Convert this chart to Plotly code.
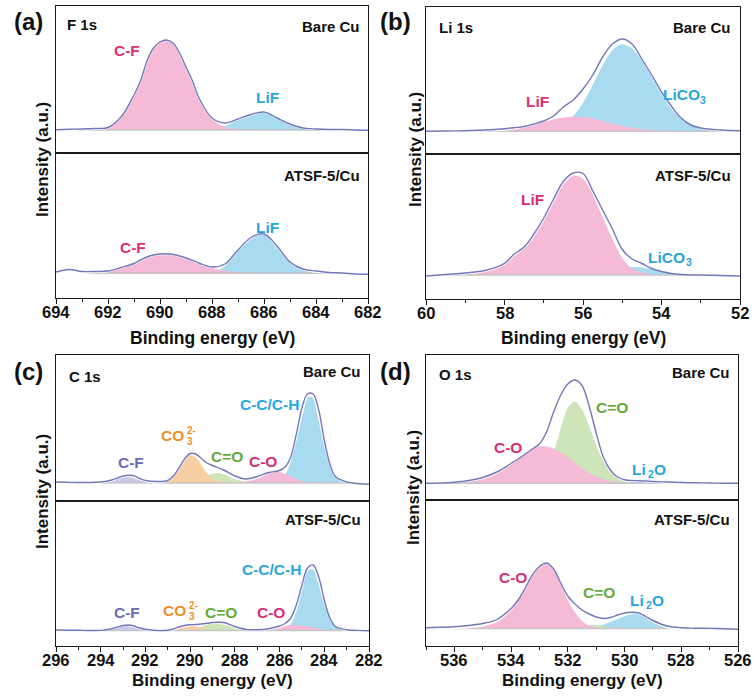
import plotly.graph_objects as go

FONT = "Liberation Sans, Arial, Helvetica, sans-serif"
FIG_W, FIG_H = 755, 698

RAW_COLOR = "#7378bb"
BASE_COLOR = "#c6c6c6"
FILL = {"pink": "#f5bad6", "blue": "#a8dbf0", "orange": "#f6cfa3",
        "green": "#cde5b8", "lav": "#c8c8e8"}
TEXT = {"pink": "#d92f72", "blue": "#27a6de", "orange": "#ee8e2a",
        "green": "#64ab3c", "lav": "#676cb3", "black": "#111111"}

# ---------------- (a) F 1s ----------------
F_TICKS = [694, 692, 690, 688, 686, 684, 682]
F_X = [694, 693.5, 693, 692.5, 692, 691.5, 691, 690.75, 690.5, 690.25, 690, 689.75,
       689.5, 689.25, 689, 688.75, 688.5, 688, 687.5, 687, 686.5, 686, 685.5, 685,
       684.5, 684, 683.5, 683, 682.5, 682]
F_BARE_BASE = 23.0
F_BARE_RAW = [23.3, 23.8, 24.0, 24.5, 25.5, 36, 58, 72, 92, 105, 111, 113, 110, 100, 86,
              72, 55, 35, 30, 34, 38.5, 41, 35, 29, 25, 24, 23.5, 23.5, 23.0, 22.7]
F_BARE_CF = [0, 0, 0.5, 1, 2.5, 13, 35, 49, 69, 82, 88, 90, 87, 77, 63,
             49, 32, 11, 3, 1, 0, 0, 0, 0, 0, 0, 0, 0, 0, 0]
F_BARE_LIF = [0, 0, 0, 0, 0, 0, 0, 0, 0, 0, 0, 0, 0, 0, 0,
              0, 0, 1, 4, 10, 15, 18, 12, 6, 2, 1, 0.3, 0, 0, 0]
F_ATSF_BASE = 24.8
F_ATSF_RAW = [26, 28.5, 26.5, 26.5, 27, 30.5, 34.5, 38, 41, 43, 44, 44.3, 43.5, 42, 40,
              37.7, 35, 31, 34, 48, 60.5, 64, 52, 36, 29, 27, 25.5, 25, 24, 23.7]
F_ATSF_CF = [0, 0, 0.3, 1, 2, 5.5, 9.7, 13, 16, 18, 19, 19.3, 18.6, 17, 15,
             12.8, 10, 5.2, 2.5, 1, 0.3, 0, 0, 0, 0, 0, 0, 0, 0, 0]
F_ATSF_LIF = [0, 0, 0, 0, 0, 0, 0, 0, 0, 0, 0, 0, 0, 0, 0,
              0, 0, 1, 7, 22, 35, 39.5, 27, 11.5, 4, 1.5, 0.5, 0, 0, 0]

# ---------------- (b) Li 1s ----------------
LI_TICKS = [60, 58, 56, 54, 52]
LI_X = [60, 59.5, 59, 58.5, 58, 57.75, 57.5, 57.25, 57, 56.75, 56.5, 56.25, 56, 55.75,
        55.5, 55.25, 55, 54.75, 54.5, 54.25, 54, 53.75, 53.5, 53.25, 53, 52.5, 52]
LI_BARE_BASE = 22.8
LI_BARE_RAW = [22.7, 23, 23.3, 24, 25.3, 26.3, 27.5, 30, 33, 38, 47, 54, 65, 79,
               97, 110, 115, 110, 95, 79, 62, 48, 36, 29, 26, 24, 23.3]
LI_BARE_LIF = [0, 0, 0.2, 0.6, 1.5, 2.8, 4.5, 6.8, 9.3, 11.8, 13.6, 14.5, 14, 12.6,
               10.3, 7.8, 5.3, 3.4, 2, 1.1, 0.5, 0.2, 0, 0, 0, 0, 0]
LI_BARE_LICO3 = [0, 0, 0, 0, 0, 0, 0.3, 0.5, 1, 2.9, 7.1, 15.3, 28.5, 46.5,
                 65.9, 81, 87, 82.6, 70.8, 54.8, 38.2, 24.1, 13.7, 7, 3.2, 0.5, 0]
LI_ATSF_BASE = 24.0
LI_ATSF_RAW = [23, 24.5, 26, 28.5, 35.7, 45, 52, 65, 81, 100, 117.5, 126, 125.5, 108,
               89, 70, 49.5, 40, 35.5, 30.5, 27.5, 25.5, 24.5, 24, 24, 23.5, 23]
LI_ATSF_LIF = [0, 0.5, 1.5, 4, 11, 20, 27.5, 40, 56, 75, 92, 100, 97, 81,
               58, 36, 17, 6.5, 2.5, 1, 0.3, 0, 0, 0, 0, 0, 0]
LI_ATSF_LICO3 = [0, 0, 0, 0, 0, 0, 0, 0, 0, 0, 0.1, 0.3, 0.7, 1.7,
                 3.3, 5.2, 7, 8, 7.6, 6, 4, 2.3, 1.1, 0.4, 0.1, 0, 0]

# ---------------- (c) C 1s ----------------
C_TICKS = [296, 294, 292, 290, 288, 286, 284, 282]
C_X = [296, 295.5, 295, 294.5, 294, 293.5, 293.25, 293, 292.75, 292.5, 292.25, 292,
       291.5, 291, 290.75, 290.5, 290.25, 290, 289.75, 289.5, 289.25, 289, 288.5, 288,
       287.5, 287, 286.5, 286, 285.75, 285.5, 285.25, 285, 284.75, 284.5, 284.25, 284,
       283.75, 283.5, 283, 282.5, 282]
C_BARE_BASE = 18.0
C_BARE_RAW = [19, 18.7, 18.5, 18.5, 19, 21, 23, 25, 25.7, 25.2, 22.5, 20.5,
              19.5, 20.5, 25, 33, 42, 47.5, 47, 42.5, 38, 35.5, 31, 25,
              22, 24.5, 28.5, 30.5, 34, 44, 67, 93, 107, 107, 91, 61,
              37, 24.5, 19, 17.5, 16.7]
C_BARE_CF = [0, 0, 0, 0, 0.4, 2.6, 4.7, 6.5, 7, 5.8, 3.8, 1.9,
             0.2, 0, 0, 0, 0, 0, 0, 0, 0, 0, 0, 0,
             0, 0, 0, 0, 0, 0, 0, 0, 0, 0, 0, 0,
             0, 0, 0, 0, 0]
C_BARE_CO3 = [0, 0, 0, 0, 0, 0, 0, 0, 0, 0, 0, 0,
              0.2, 2.6, 7, 14.5, 23, 28, 25.7, 18, 9.7, 4, 0.3, 0,
              0, 0, 0, 0, 0, 0, 0, 0, 0, 0, 0, 0,
              0, 0, 0, 0, 0]
C_BARE_CDO = [0, 0, 0, 0, 0, 0, 0, 0, 0, 0, 0, 0,
              0, 0, 0, 0.2, 0.5, 1.2, 2.6, 4.8, 7.4, 9.6, 9.6, 4.8,
              1.2, 0.1, 0, 0, 0, 0, 0, 0, 0, 0, 0, 0,
              0, 0, 0, 0, 0]
C_BARE_CSO = [0, 0, 0, 0, 0, 0, 0, 0, 0, 0, 0, 0,
              0, 0, 0, 0, 0, 0, 0, 0, 0, 0, 0, 0.3,
              1.6, 5.4, 10.3, 11, 9, 6.4, 3.9, 2.1, 1, 0.4, 0.1, 0,
              0, 0, 0, 0, 0]
C_BARE_CC = [0, 0, 0, 0, 0, 0, 0, 0, 0, 0, 0, 0,
             0, 0, 0, 0, 0, 0, 0, 0, 0, 0, 0, 0,
             0, 0, 0.3, 2.6, 8.3, 21.2, 42.5, 67.8, 85.8, 86, 67, 41,
             19.5, 7.2, 0.5, 0, 0]
C_ATSF_BASE = 15.6
C_ATSF_RAW = [16, 15.8, 15.7, 15.5, 15.6, 17.3, 19, 20.5, 21, 20, 18, 16.8,
              15.5, 15.8, 17, 19, 20.5, 21.2, 21.5, 22, 22.7, 23.5, 23.5, 19.5,
              16.5, 16.3, 17.3, 20, 22.5, 28, 41, 61, 78, 81, 69, 46,
              28, 19.5, 16.3, 15.6, 15.3]
C_ATSF_CF = [0, 0, 0, 0, 0.2, 1.9, 3.6, 5.1, 5.3, 4, 2.2, 0.9,
             0, 0, 0, 0, 0, 0, 0, 0, 0, 0, 0, 0,
             0, 0, 0, 0, 0, 0, 0, 0, 0, 0, 0, 0,
             0, 0, 0, 0, 0]
C_ATSF_CO3 = [0, 0, 0, 0, 0, 0, 0, 0, 0, 0, 0, 0,
              0, 0.4, 1.1, 2.5, 3.9, 4.6, 3.9, 2.5, 1.1, 0.4, 0, 0,
              0, 0, 0, 0, 0, 0, 0, 0, 0, 0, 0, 0,
              0, 0, 0, 0, 0]
C_ATSF_CDO = [0, 0, 0, 0, 0, 0, 0, 0, 0, 0, 0, 0,
              0, 0, 0, 0.1, 0.4, 1, 2.2, 3.9, 5.8, 7.3, 6.8, 3.2,
              0.7, 0.1, 0, 0, 0, 0, 0, 0, 0, 0, 0, 0,
              0, 0, 0, 0, 0]
C_ATSF_CSO = [0, 0, 0, 0, 0, 0, 0, 0, 0, 0, 0, 0,
              0, 0, 0, 0, 0, 0, 0, 0, 0, 0, 0, 0,
              0, 0.3, 1.3, 3.3, 4.5, 5.3, 5.5, 5, 4, 2.9, 1.8, 1,
              0.5, 0.2, 0, 0, 0]
C_ATSF_CC = [0, 0, 0, 0, 0, 0, 0, 0, 0, 0, 0, 0,
             0, 0, 0, 0, 0, 0, 0, 0, 0, 0, 0, 0,
             0, 0, 0, 0.2, 1.5, 6.2, 18.6, 39.4, 59.3, 60.7, 47.5, 28.4,
             12.9, 4.5, 0.2, 0, 0]

# ---------------- (d) O 1s ----------------
O_TICKS = [536, 534, 532, 530, 528, 526]
O_X = [537, 536.5, 536, 535.5, 535, 534.5, 534, 533.75, 533.5, 533.25, 533, 532.75,
       532.5, 532.25, 532, 531.75, 531.5, 531.25, 531, 530.75, 530.5, 530.25, 530,
       529.75, 529.5, 529.25, 529, 528.5, 528, 527.5, 527, 526.5, 526]
O_BARE_BASE = 16.8
O_BARE_RAW = [16.7, 17, 17.8, 19.5, 22.5, 28, 36.5, 41, 46, 51, 56, 68,
              88, 105, 116, 120, 114.5, 94, 67, 43, 30, 23, 20.3,
              19.5, 19.3, 19, 18.5, 18, 17.5, 17.2, 17, 16.8, 16.7]
O_BARE_CSO = [0.3, 0.6, 1.2, 2.5, 5, 10.5, 19.5, 24.7, 30, 34.2, 36.6, 36.8,
              34.8, 30.9, 25.8, 20.2, 14.9, 10.3, 6.7, 4.1, 2.3, 1.2, 0.6,
              0.3, 0.1, 0, 0, 0, 0, 0, 0, 0, 0]
O_BARE_CDO = [0, 0, 0, 0, 0, 0, 0, 0, 0.3, 1.2, 4.6, 13.4,
              30.6, 54.4, 75.3, 81.4, 73.4, 57, 38.3, 22.2, 11, 4.8, 1.8,
              0.6, 0.2, 0, 0, 0, 0, 0, 0, 0, 0]
O_BARE_LI2O = [0, 0, 0, 0, 0, 0, 0, 0, 0, 0, 0, 0,
               0, 0, 0, 0, 0, 0, 0, 0, 0.3, 0.7, 1.2,
               1.7, 1.9, 1.7, 1.2, 0.4, 0.1, 0, 0, 0, 0]
O_ATSF_BASE = 17.6
O_ATSF_RAW = [18.3, 18.7, 19.2, 20.5, 22.5, 26.5, 37.5, 46, 58, 71, 79.5, 83,
              77, 63, 50, 42, 36, 32, 29, 27.5, 28.5, 31, 33,
              33.7, 33, 29.5, 25.5, 20, 18.2, 17.8, 17.6, 17.2, 16.7]
O_ATSF_CSO = [0, 0.2, 0.5, 1.2, 3, 7.5, 19.4, 29, 40.5, 53.5, 62, 65.6,
              60.2, 46.4, 30, 16.4, 7.5, 2.9, 0.9, 0.3, 0.1, 0, 0,
              0, 0, 0, 0, 0, 0, 0, 0, 0, 0]
O_ATSF_CDO = [0, 0, 0, 0, 0, 0, 0, 0, 0, 0, 0, 0,
              0, 0.2, 0.8, 1.9, 3.1, 3.6, 3.3, 2.2, 1, 0.4, 0.1,
              0, 0, 0, 0, 0, 0, 0, 0, 0, 0]
O_ATSF_LI2O = [0, 0, 0, 0, 0, 0, 0, 0, 0, 0, 0, 0,
               0, 0, 0, 0, 0.3, 0.7, 1.8, 3.7, 6.6, 10.1, 13.4,
               15.3, 14.9, 11.5, 7.1, 1.3, 0.1, 0, 0, 0, 0]

# binding-energy axis ranges (high -> low) per panel
RANGES = {"a": (694, 682), "b": (60, 52), "c": (296, 282), "d": (537, 526)}

fig = go.Figure()


def axis_ids(k):
    return ("x" if k == 1 else f"x{k}", "y" if k == 1 else f"y{k}")


def add_spectrum(k, panel, x, base, raw, comps):
    """Filled fit components (back to front), baseline, envelope and raw data."""
    xa, ya = axis_ids(k)
    common = dict(xaxis=xa, yaxis=ya, hoverinfo="skip", showlegend=False)
    for vals, key in comps:
        fig.add_trace(go.Scatter(x=[x[0], x[-1]], y=[base, base], mode="lines",
                                 line=dict(width=0), **common))
        fig.add_trace(go.Scatter(x=x, y=[base + v for v in vals], mode="lines",
                                 line=dict(width=0, shape="spline"),
                                 fill="tonexty", fillcolor=FILL[key], **common))
    lo, hi = RANGES[panel]
    fig.add_trace(go.Scatter(x=[lo, hi], y=[base, base], mode="lines",
                             line=dict(color=BASE_COLOR, width=1.5), **common))
    envelope = [base + sum(c[0][i] for c in comps) for i in range(len(x))]
    fig.add_trace(go.Scatter(x=x, y=envelope, mode="lines",
                             line=dict(color="white", width=2.2, shape="spline"), **common))
    fig.add_trace(go.Scatter(x=x, y=raw, mode="lines",
                             line=dict(color=RAW_COLOR, width=1.4, shape="spline"), **common))


add_spectrum(1, "a", F_X, F_BARE_BASE, F_BARE_RAW,
             [(F_BARE_LIF, "blue"), (F_BARE_CF, "pink")])
add_spectrum(2, "a", F_X, F_ATSF_BASE, F_ATSF_RAW,
             [(F_ATSF_LIF, "blue"), (F_ATSF_CF, "pink")])
add_spectrum(3, "b", LI_X, LI_BARE_BASE, LI_BARE_RAW,
             [(LI_BARE_LICO3, "blue"), (LI_BARE_LIF, "pink")])
add_spectrum(4, "b", LI_X, LI_ATSF_BASE, LI_ATSF_RAW,
             [(LI_ATSF_LICO3, "blue"), (LI_ATSF_LIF, "pink")])
add_spectrum(5, "c", C_X, C_BARE_BASE, C_BARE_RAW,
             [(C_BARE_CC, "blue"), (C_BARE_CF, "lav"), (C_BARE_CDO, "green"),
              (C_BARE_CO3, "orange"), (C_BARE_CSO, "pink")])
add_spectrum(6, "c", C_X, C_ATSF_BASE, C_ATSF_RAW,
             [(C_ATSF_CC, "blue"), (C_ATSF_CF, "lav"), (C_ATSF_CDO, "green"),
              (C_ATSF_CO3, "orange"), (C_ATSF_CSO, "pink")])
add_spectrum(7, "d", O_X, O_BARE_BASE, O_BARE_RAW,
             [(O_BARE_CDO, "green"), (O_BARE_LI2O, "blue"), (O_BARE_CSO, "pink")])
add_spectrum(8, "d", O_X, O_ATSF_BASE, O_ATSF_RAW,
             [(O_ATSF_LI2O, "blue"), (O_ATSF_CDO, "green"), (O_ATSF_CSO, "pink")])

# panel frames in pixels: (top id, bottom id, left, right, top, divider, bottom)
FRAMES = {
    "a": (1, 2, 56, 368, 6, 153, 298),
    "b": (3, 4, 426, 740, 7, 154, 299),
    "c": (5, 6, 56, 369, 355, 501, 646),
    "d": (7, 8, 426, 738, 355, 500, 646),
}
TICKS = {"a": F_TICKS, "b": LI_TICKS, "c": C_TICKS, "d": O_TICKS}

LINE = dict(showline=True, linecolor="#1a1a1a", linewidth=1.4, mirror=True,
            showgrid=False, zeroline=False)
layout = {}
ann = []
for panel, (kt, kb, x0, x1, yt, ym, yb) in FRAMES.items():
    xdom = [x0 / FIG_W, x1 / FIG_W]
    lo, hi = RANGES[panel]
    for k, (ya, yb_) in ((kt, (yt, ym)), (kb, (ym, yb))):
        xname = "xaxis" if k == 1 else f"xaxis{k}"
        yname = "yaxis" if k == 1 else f"yaxis{k}"
        xa, ya_id = axis_ids(k)
        xcfg = dict(domain=xdom, range=[lo, hi], anchor=ya_id,
                    showticklabels=False, **LINE)
        if k == kb:
            xcfg.update(
                ticks="outside", ticklen=5, tickwidth=1.3, tickcolor="#1a1a1a",
                tickvals=TICKS[panel],
                minor=dict(ticks="outside", ticklen=3, tickwidth=1.1,
                           tickcolor="#1a1a1a", dtick=1, tick0=hi),
            )
            # tick labels placed just under the frame
            for t in TICKS[panel]:
                ann.append(dict(x=t, y=1 - (yb + 14) / FIG_H, xref=xa, yref="paper",
                                text=str(t), showarrow=False, yanchor="middle",
                                font=dict(family=FONT, size=16.5, color="#111111",
                                          weight="bold")))
        else:
            xcfg.update(ticks="")
        layout[xname] = xcfg
        layout[yname] = dict(domain=[1 - yb_ / FIG_H, 1 - ya / FIG_H],
                             range=[0, yb_ - ya], anchor=xa, ticks="",
                             showticklabels=False, fixedrange=True, **LINE)


def label(k, x, y, text, color, size=15.5, **kw):
    xa, ya = axis_ids(k)
    ann.append(dict(x=x, y=y, xref=xa, yref=ya, text=text, showarrow=False,
                    font=dict(family=FONT, size=size, color=TEXT[color], weight="bold"),
                    **kw))


def carbonate(k, x, y):
    label(k, x, y, "CO", "orange", xanchor="right")
    label(k, x, y, "2-", "orange", size=10, xanchor="left", xshift=-1, yshift=5)
    label(k, x, y, "3", "orange", size=10, xanchor="left", xshift=-1, yshift=-6)


def lico3(k, x, y):
    label(k, x, y, "LiCO", "blue", xanchor="center", xshift=-4)
    label(k, x, y, "3", "blue", size=10.5, xanchor="left", xshift=13, yshift=-5)


def li2o(k, x, y):
    label(k, x, y, "Li", "blue", xanchor="right", xshift=1)
    label(k, x, y, "2", "blue", size=10.5, xanchor="left", xshift=-1, yshift=-5)
    label(k, x, y, "O", "blue", xanchor="left", xshift=5)


label(1, 691.27, 102, "C-F", "pink")
label(1, 685.88, 55, "LiF", "blue")
label(2, 691.04, 51, "C-F", "pink")
label(2, 685.88, 71, "LiF", "blue")
label(3, 57.16, 52, "LiF", "pink")
lico3(3, 53.4, 59)
label(4, 57.28, 100, "LiF", "pink")
lico3(4, 53.76, 42)
label(5, 292.65, 39, "C-F", "lav")
carbonate(5, 290.19, 66)
label(5, 288.35, 45, "C=O", "green")
label(5, 286.74, 40, "C-O", "pink")
label(5, 286.43, 97, "C-C/C-H", "blue")
label(6, 292.82, 34, "C-F", "lav")
carbonate(6, 290.1, 36)
label(6, 288.62, 34, "C=O", "green")
label(6, 286.38, 34, "C-O", "pink")
label(6, 286.34, 77, "C-C/C-H", "blue")
label(7, 534.11, 53, "C-O", "pink")
label(7, 530.44, 93, "C=O", "green")
li2o(7, 529.21, 31)
label(8, 533.93, 69, "C-O", "pink")
label(8, 530.9, 54, "C=O", "green")
li2o(8, 529.28, 46)


def paper_text(px, py, text, size, xanchor="center", angle=0):
    ann.append(dict(x=px / FIG_W, y=1 - py / FIG_H, xref="paper", yref="paper",
                    text=text, showarrow=False, xanchor=xanchor, yanchor="middle",
                    textangle=angle,
                    font=dict(family=FONT, size=size, color="#111111", weight="bold")))


# panel letters
paper_text(28, 21, "(a)", 24)
paper_text(396, 21, "(b)", 24)
paper_text(28, 371, "(c)", 24)
paper_text(396, 371, "(d)", 24)

# axis titles
paper_text(212, 338, "Binding energy (eV)", 17.5)
paper_text(583, 338, "Binding energy (eV)", 17.5)
paper_text(212, 680, "Binding energy (eV)", 17)
paper_text(582, 680, "Binding energy (eV)", 17)
paper_text(42, 160, "Intensity (a.u.)", 17, angle=-90)
paper_text(415, 150, "Intensity (a.u.)", 17, angle=-90)
paper_text(42, 492, "Intensity (a.u.)", 17, angle=-90)
paper_text(413, 488, "Intensity (a.u.)", 17, angle=-90)

# core level and sample names
for px, py, t in ((65, 24, "F 1s"), (437, 27, "Li 1s"), (67, 376, "C 1s"), (437, 374, "O 1s")):
    paper_text(px, py, t, 15, xanchor="left")
for px, py in ((362, 26), (733, 27), (363, 371), (732, 372)):
    paper_text(px, py, "Bare Cu", 15, xanchor="right")
for px, py in ((362, 176), (733, 175), (363, 519), (732, 519)):
    paper_text(px, py, "ATSF-5/Cu", 15, xanchor="right")

fig.update_layout(
    width=FIG_W, height=FIG_H, margin=dict(l=0, r=0, t=0, b=0),
    paper_bgcolor="white", plot_bgcolor="white", template="none",
    showlegend=False, annotations=ann, **layout,
)

fig.write_html("out.html")
